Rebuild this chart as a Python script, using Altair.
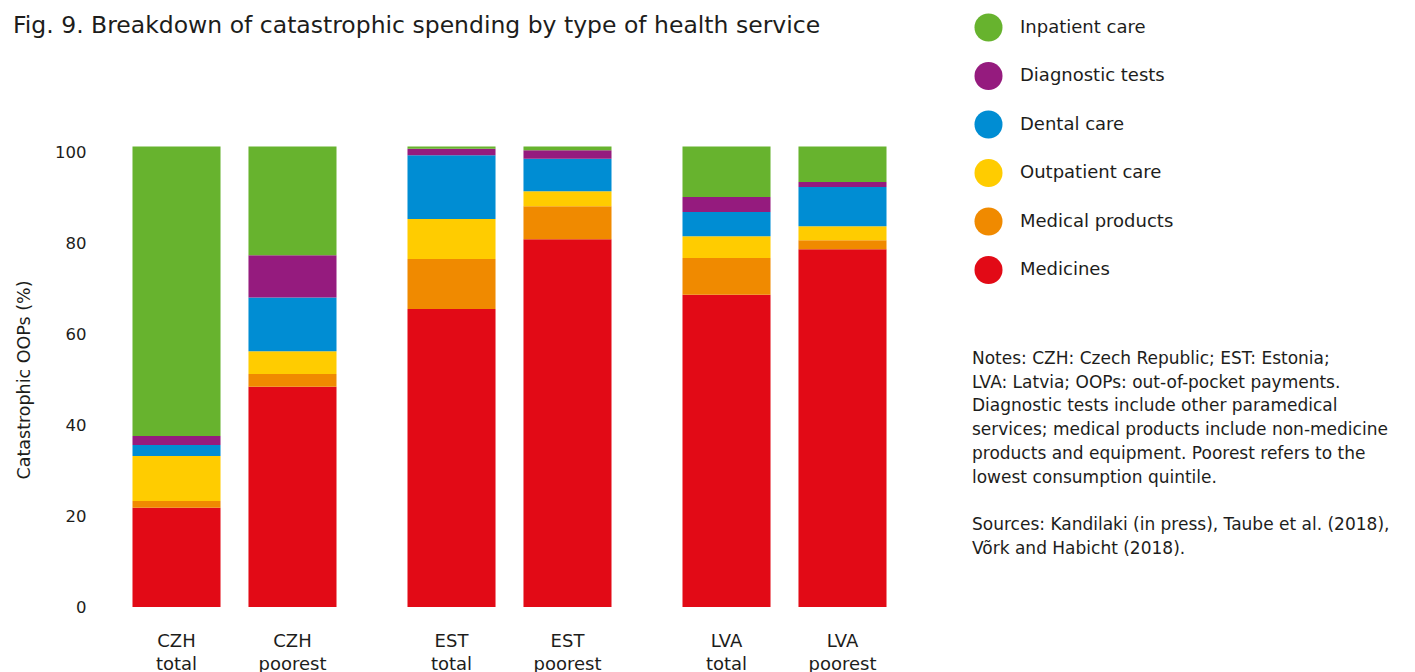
import altair as alt
import pandas as pd

countries = ["CZH", "CZH", "EST", "EST", "LVA", "LVA"]
groups = ["total", "poorest", "total", "poorest", "total", "poorest"]
services = ["Medicines", "Medical products", "Outpatient care", "Dental care", "Diagnostic tests", "Inpatient care"]
medicines = [21.8, 48.4, 65.5, 80.8, 68.6, 78.6]
medical_products = [1.5, 2.8, 11.0, 7.3, 8.1, 2.0]
outpatient = [9.9, 5.0, 8.8, 3.3, 4.8, 3.1]
dental = [2.4, 11.8, 14.0, 7.1, 5.3, 8.6]
diagnostic = [2.0, 9.3, 1.4, 1.9, 3.3, 1.1]
inpatient = [63.6, 23.9, 0.5, 0.8, 11.1, 7.8]
colors = ["#e20a16", "#f08a00", "#ffcc00", "#008dd3", "#951b7e", "#67b32e"]
title_text = "Fig. 9. Breakdown of catastrophic spending by type of health service"
notes = ("Notes: CZH: Czech Republic; EST: Estonia;\n"
         "LVA: Latvia; OOPs: out-of-pocket payments.\n"
         "Diagnostic tests include other paramedical\n"
         "services; medical products include non-medicine\n"
         "products and equipment. Poorest refers to the\n"
         "lowest consumption quintile.")
sources = ("Sources: Kandilaki (in press), Taube et al. (2018),\n"
           "Võrk and Habicht (2018).")

series = [medicines, medical_products, outpatient, dental, diagnostic, inpatient]
rows = []
for si, (svc, vals) in enumerate(zip(services, series)):
    for c, g, v in zip(countries, groups, vals):
        rows.append({"country": c, "group": g, "service": svc, "value": v, "ord": si})
df = pd.DataFrame(rows)
lab = pd.DataFrame({"country": countries, "group": groups,
                    "label": [f"{c}\n{g}" for c, g in zip(countries, groups)]})
ndf = pd.DataFrame({"t": [notes]})
sdf = pd.DataFrame({"t": [sources]})
tdf = pd.DataFrame({"t": [title_text]})

FONT = "DejaVu Sans"
INK = "#1d1d1b"

legend_order = list(reversed(services))
legend_colors = list(reversed(colors))

x = alt.X("country:N", scale=alt.Scale(paddingInner=0, paddingOuter=0), axis=None)
xo = alt.XOffset("group:N", sort=["total", "poorest"],
                 scale=alt.Scale(paddingInner=0.241, paddingOuter=0.306))

bars = alt.Chart(df).mark_bar().encode(
    x=x, xOffset=xo,
    y=alt.Y("value:Q", stack="zero",
            scale=alt.Scale(domain=[0, 100], nice=False),
            axis=alt.Axis(title="Catastrophic OOPs (%)", values=[0, 20, 40, 60, 80, 100],
                          domain=False, ticks=False, grid=False,
                          labelFontSize=16.5, labelColor=INK, labelFont=FONT, labelPadding=11,
                          titleFontSize=17.5, titleColor=INK, titleFont=FONT,
                          titleFontWeight="normal", titlePadding=21)),
    color=alt.Color("service:N", scale=alt.Scale(domain=legend_order, range=legend_colors),
                    legend=alt.Legend(orient="none", legendX=877, legendY=-139, title=None,
                                      symbolType="circle", symbolSize=785, symbolStrokeWidth=0,
                                      symbolOpacity=1, labelFontSize=18, labelFont=FONT,
                                      labelColor=INK, rowPadding=19.5, labelOffset=17, padding=0)),
    order=alt.Order("ord:Q", sort="ascending"),
)

labels = alt.Chart(lab).mark_text(lineBreak="\n", baseline="alphabetic", fontSize=18,
                                  lineHeight=23, font=FONT, color=INK).encode(
    x=x, xOffset=xo, y=alt.value(494.5), text="label:N")

note = alt.Chart(ndf).mark_text(lineBreak="\n", baseline="alphabetic", align="left", fontSize=17,
                                lineHeight=23.7, font=FONT, color=INK).encode(
    x=alt.value(875), y=alt.value(212), text="t:N")

src = alt.Chart(sdf).mark_text(lineBreak="\n", baseline="alphabetic", align="left", fontSize=17,
                               lineHeight=23.7, font=FONT, color=INK).encode(
    x=alt.value(875), y=alt.value(212 + 7 * 23.7), text="t:N")

title = alt.Chart(tdf).mark_text(baseline="alphabetic", align="left", fontSize=23.5,
                                 font=FONT, color=INK).encode(
    x=alt.value(-84), y=alt.value(-119), text="t:N")

chart = alt.layer(bars, labels, note, src, title).properties(
    width=825, height=455,
).configure_view(stroke=None)

chart.save("out.html", embed_options={"renderer": "svg", "actions": False})
